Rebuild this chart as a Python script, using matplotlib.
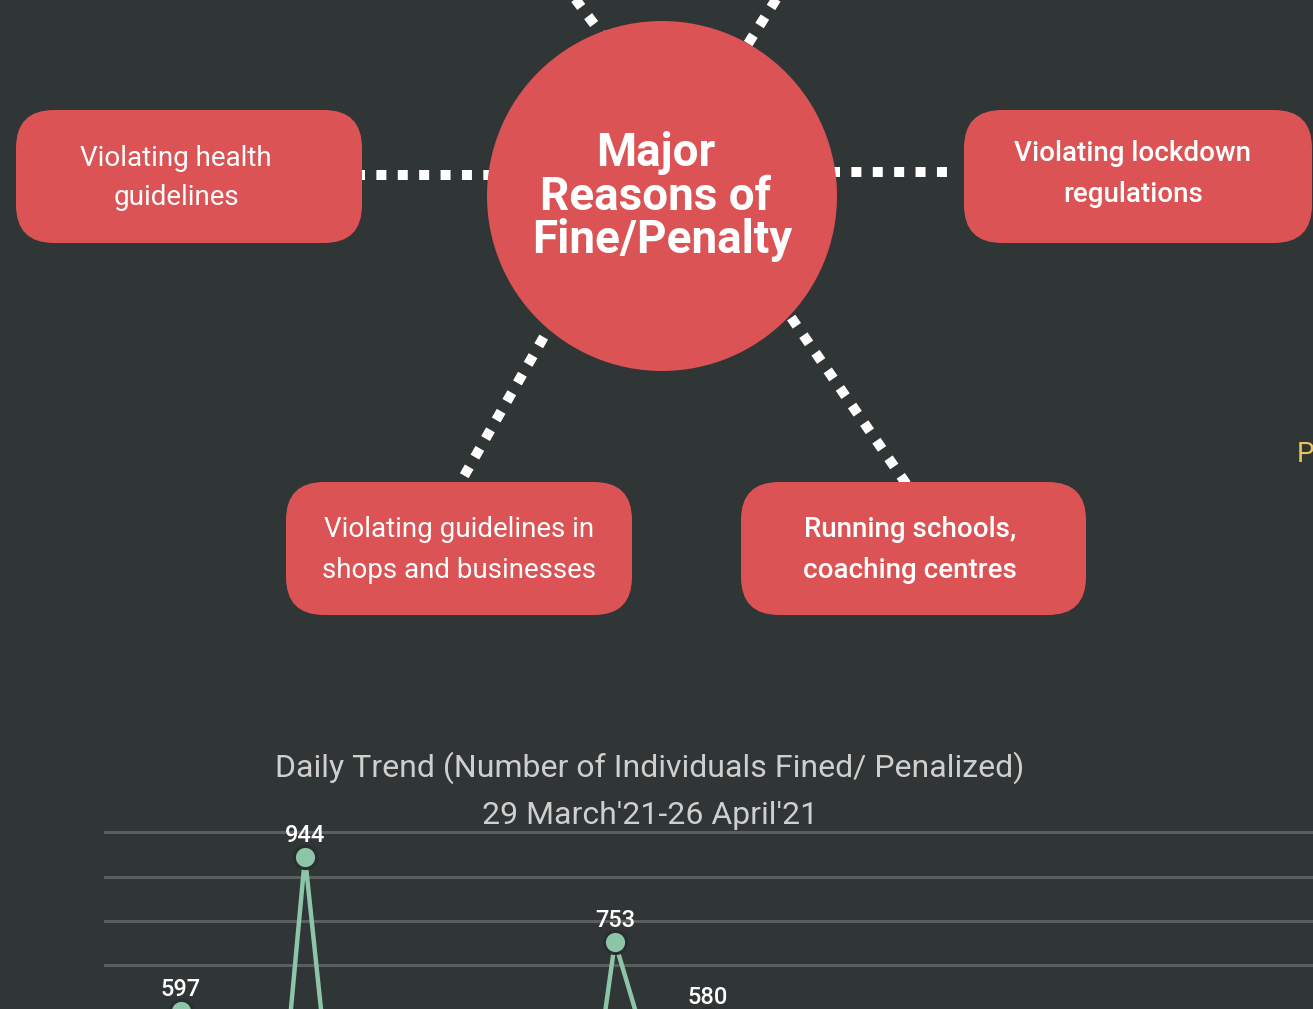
import matplotlib
matplotlib.use("Agg")
import matplotlib.pyplot as plt
from matplotlib.patches import Circle, FancyBboxPatch

plt.rcParams['font.family'] = ['Roboto', 'DejaVu Sans']
plt.rcParams['lines.scale_dashes'] = False

# ---------------- data ----------------
center_title = ["Major", "Reasons of", "Fine/Penalty"]
reasons = [
    "Violating health\nguidelines",
    "Violating lockdown\nregulations",
    "Violating guidelines in\nshops and businesses",
    "Running schools,\ncoaching centres",
]
reason_weights = ["normal", "medium", "normal", "medium"]

chart_title = "Daily Trend (Number of Individuals Fined/ Penalized)"
chart_subtitle = "29 March'21-26 April'21"
# daily values, 29 March'21 ... 26 April'21 (lower values are off-canvas; estimated)
daily_values = [597, 420, 350, 189, 944, 281, 360, 410, 300, 450, 390, 330, 310, 256,
                753, 519, 470, 580, 430, 380, 500, 460, 350, 410, 480, 390, 300, 440, 400]
grid_values = [700, 800, 900, 1000]
side_text = "P"

# ---------------- style ----------------
BG = "#303536"
RED = "#DB5355"
GREEN = "#8CC5A7"
W, H = 1313, 1009
DPI = 100

fig = plt.figure(figsize=(W / DPI, H / DPI), dpi=DPI, facecolor=BG)
ax = fig.add_axes([0, 0, 1, 1])
ax.set_xlim(0, W)
ax.set_ylim(H, 0)
ax.axis("off")
ax.set_facecolor(BG)

# dotted connectors (drawn first, behind shapes)
dot_kw = dict(color="white", lw=7.2, linestyle=(0, (7.2, 8.2)), dash_capstyle="butt", zorder=1)
connectors = [
    ((355, 175), (500, 175)),
    ((830, 172), (958, 172)),
    ((565, 300), (452, 497)),
    ((779, 300), (914, 495)),
    ((570, -8), (640, 85)),
    ((782, -10), (722, 85)),
]
for (x0, y0), (x1, y1) in connectors:
    ax.plot([x0, x1], [y0, y1], **dot_kw)

# central circle
ax.add_patch(Circle((662, 196), 175, facecolor=RED, edgecolor="none", zorder=2))
for txt, x, y in zip(center_title, [656, 656, 662], [153, 197, 240]):
    ax.text(x, y, txt, ha="center", va="center", color="white",
            fontsize=33, fontweight="bold", zorder=3)

# reason boxes
boxes = [(16, 110, 346, 133), (964, 110, 348, 133), (286, 482, 346, 133), (741, 482, 345, 133)]
text_pos = [(176, 178), (1133, 174), (459, 550), (910, 550)]
spacings = [1.56, 1.7, 1.7, 1.7]
for (x, y, w, h), label, (tx, ty), wt, ls in zip(boxes, reasons, text_pos, reason_weights, spacings):
    ax.add_patch(FancyBboxPatch((x, y), w, h, boxstyle="round,pad=0,rounding_size=38",
                                facecolor=RED, edgecolor="none", zorder=2))
    ax.text(tx, ty, label, ha="center", va="center", color="white", fontsize=20,
            fontweight=wt, linespacing=ls, zorder=3)

# partial side text
ax.text(1297, 455, side_text, ha="left", va="center", color="#EAC45A", fontsize=20, zorder=3)

# chart titles
ax.text(650, 768, chart_title, ha="center", va="center", color="#CFCFCF", fontsize=23, zorder=3)
ax.text(650, 816, chart_subtitle, ha="center", va="center", color="#CFCFCF", fontsize=23, zorder=3)

# ---------------- line chart ----------------
ax2 = fig.add_axes([104 / W, 0, (W - 104) / W, (H - 810) / H])
ax2.set_facecolor("none")
ax2.set_xlim(-2.484, 36.52)
ax2.set_ylim(602, 1049.6)
ax2.set_yticks(grid_values)
ax2.set_xticks([])
ax2.tick_params(left=False, labelleft=False)
for s in ax2.spines.values():
    s.set_visible(False)
ax2.grid(axis="y", color="#5A5E5F", lw=2.2, zorder=0)
ax2.set_axisbelow(True)

xs = list(range(len(daily_values)))
ax2.plot(xs, daily_values, color=GREEN, lw=3.2, marker="o", markersize=16,
         markerfacecolor=GREEN, markeredgecolor="#2A2E2F", markeredgewidth=2.2,
         clip_on=False, zorder=3)
for x, v in zip(xs, daily_values):
    if v >= 550:
        ax2.annotate(str(v), (x, v), xytext=(0, 15.5), textcoords="offset points",
                     ha="center", va="center", color="white", fontsize=17,
                     fontweight="medium", annotation_clip=False, zorder=4)

fig.savefig("out.png", dpi=DPI, facecolor=BG)
